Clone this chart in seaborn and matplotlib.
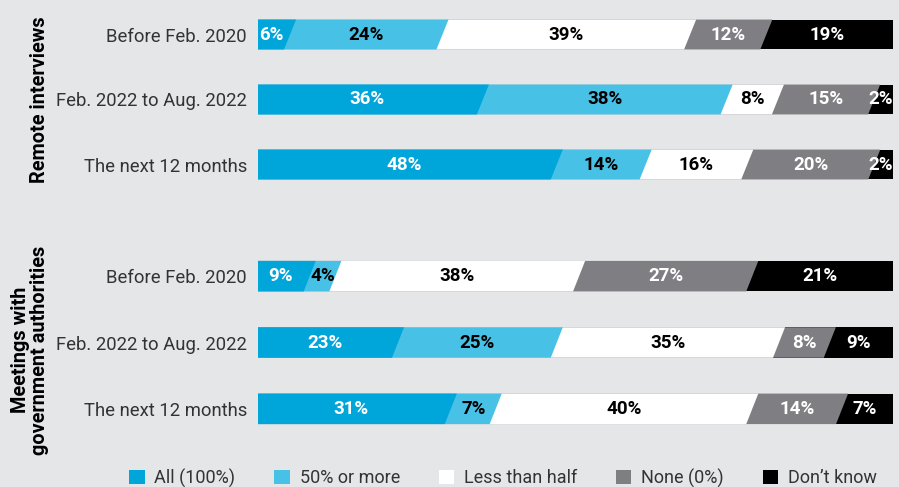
import matplotlib
matplotlib.use("Agg")
import matplotlib.pyplot as plt
from matplotlib.patches import Polygon, Rectangle
import numpy as np
import pandas as pd
import seaborn as sns

periods = ["Before Feb. 2020", "Feb. 2022 to Aug. 2022", "The next 12 months"]
answers = ["All (100%)", "50% or more", "Less than half", "None (0%)", "Don\u2019t know"]

remote_all = [6, 36, 48]
remote_half_plus = [24, 38, 14]
remote_less_half = [39, 8, 16]
remote_none = [12, 15, 20]
remote_dont_know = [19, 2, 2]

meet_all = [9, 23, 31]
meet_half_plus = [4, 25, 7]
meet_less_half = [38, 35, 40]
meet_none = [27, 8, 14]
meet_dont_know = [21, 9, 7]

groups = ["Remote interviews", "Meetings with\ngovernment authorities"]

colors = ["#00A5DA", "#48C1E6", "#FFFFFF", "#7F7F83", "#000000"]
text_colors = ["white", "black", "black", "white", "white"]
bg = "#E5E6E8"

BAR_W = 0.46
SLANT = 1.9  # horizontal offset of segment edges, in percent units

sns.set_theme(style="white", rc={"axes.facecolor": bg, "figure.facecolor": bg})
plt.rcParams["font.family"] = ["Roboto", "DejaVu Sans"]

fig = plt.figure(figsize=(8.99, 4.87), dpi=100)
ax_top = fig.add_axes([258 / 899, 1 - 197 / 487, 635 / 899, 195 / 487])
ax_bot = fig.add_axes([258 / 899, 1 - 442 / 487, 635 / 899, 199 / 487])


def build_frame(cols):
    vals = np.array(cols, dtype=float).T  # rows = periods
    totals = vals.sum(axis=1, keepdims=True)
    share = vals / totals * 100
    cum = np.cumsum(share, axis=1)
    rows = []
    for i, p in enumerate(periods):
        for j, a in enumerate(answers):
            rows.append({"period": p, "answer": a, "value": vals[i, j],
                         "start": cum[i, j] - share[i, j], "cum": cum[i, j]})
    return pd.DataFrame(rows)


def draw_group(ax, df):
    # longest cumulative bar first so shorter ones sit on top
    for j in reversed(range(len(answers))):
        sub = df[df["answer"] == answers[j]]
        sns.barplot(data=sub, x="cum", y="period", order=periods, orient="h",
                    color=colors[j], width=BAR_W, ax=ax, saturation=1,
                    edgecolor="none", linewidth=0)
    # turn each rectangle into a shape with a slanted right edge
    rects = [p for p in ax.patches if isinstance(p, Rectangle)]
    for r in rects:
        x0, y0, w, h = r.get_x(), r.get_y(), r.get_width(), r.get_height()
        x1 = x0 + w
        d = 0 if x1 >= 99.99 else SLANT
        poly = Polygon([(x0, y0), (x1, y0), (x1 - d, y0 + h), (x0, y0 + h)],
                       closed=True, facecolor=r.get_facecolor(), edgecolor="none",
                       zorder=r.get_zorder())
        r.remove()
        ax.add_patch(poly)
    # value labels
    for _, row in df.iterrows():
        j = answers.index(row["answer"])
        i = periods.index(row["period"])
        mid = (row["start"] + row["cum"]) / 2 - SLANT / 2
        ax.text(mid, i, f"{int(row['value'])}%", ha="center", va="center",
                fontsize=13.5, fontweight="bold", color=text_colors[j], zorder=5)
    ax.set_xlim(0, 100)
    ax.set_ylim(2.5, -0.5)
    ax.set_xlabel("")
    ax.set_ylabel("")
    ax.set_xticks([])
    ax.tick_params(axis="y", length=0, pad=8, labelsize=13.3, labelcolor="#333333")
    for s in ax.spines.values():
        s.set_visible(False)


draw_group(ax_top, build_frame([remote_all, remote_half_plus, remote_less_half,
                                remote_none, remote_dont_know]))
draw_group(ax_bot, build_frame([meet_all, meet_half_plus, meet_less_half,
                                meet_none, meet_dont_know]))

fig.text(40 / 899, 1 - 100 / 487, groups[0], rotation=90, ha="center", va="center",
         fontsize=14.3, fontweight="bold", color="black")
fig.text(30 / 899, 1 - 350 / 487, groups[1], rotation=90, ha="center", va="center",
         fontsize=14.3, fontweight="bold", color="black", multialignment="center",
         linespacing=1.0)

handles = [Rectangle((0, 0), 1, 1, facecolor=c, edgecolor="none") for c in colors]
fig.legend(handles, answers, loc="center", bbox_to_anchor=(503 / 899, 1 - 478 / 487),
           ncol=5, frameon=False, fontsize=13, handlelength=0.85, handleheight=0.85,
           handletextpad=0.55, columnspacing=2.15, labelcolor="#333333")

fig.savefig("out.png", dpi=100, facecolor=bg)
